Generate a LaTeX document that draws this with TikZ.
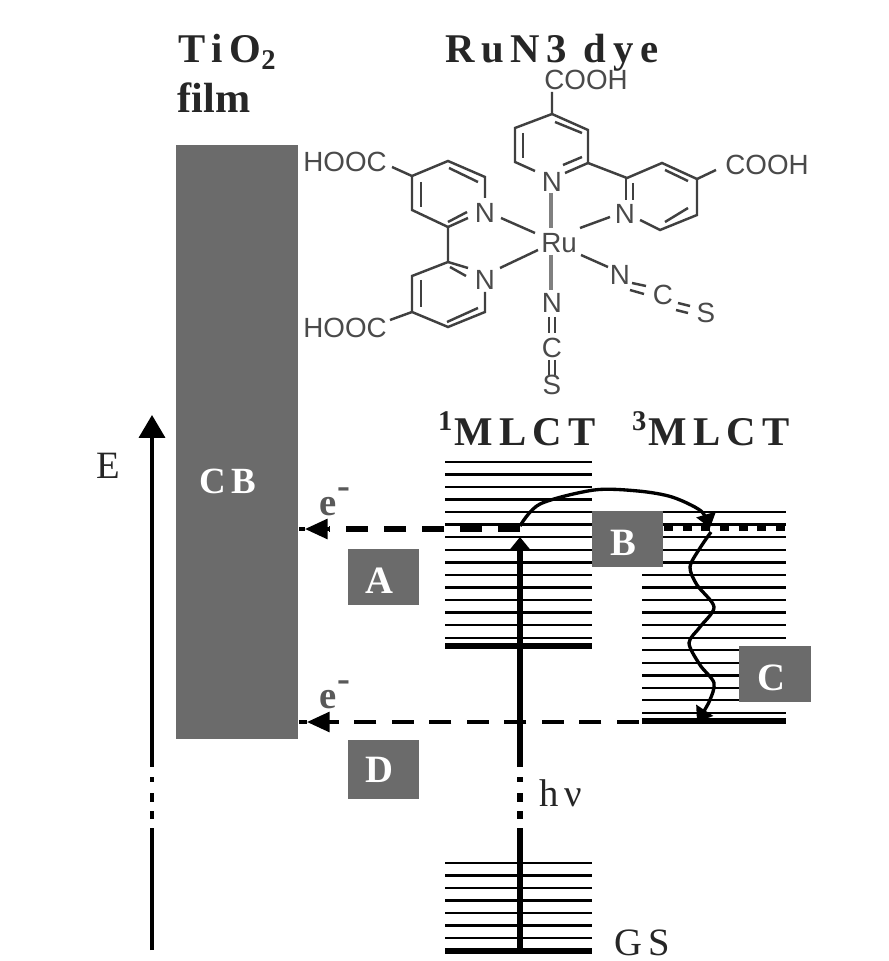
\documentclass[tikz,border=0pt]{standalone}
\usepackage{fontspec}
\usetikzlibrary{arrows.meta}
\setmainfont{Liberation Serif}
\newfontfamily\spacedfont[LetterSpace=16]{Liberation Serif}
\newfontfamily\chemfont{Liberation Sans}
\definecolor{barcol}{HTML}{6B6B6B}
\definecolor{chemcol}{HTML}{4A4A4A}
\newcommand{\boxtext}[1]{\rule{0pt}{9.4pt}#1\kern2.2pt}
\tikzset{
  title/.style={inner sep=0pt, text=black!85, font=\spacedfont\bfseries\fontsize{11.6}{13}\selectfont},
  plainlab/.style={inner sep=0pt, text=black!85, font=\spacedfont\fontsize{11}{13}\selectfont},
  atom/.style={inner sep=0pt, text=chemcol, font=\chemfont\fontsize{7.9}{9}\selectfont},
  bond/.style={draw=black!75, line width=0.7pt},
  rubond/.style={draw=black!50, line width=1.1pt},
  statebox/.style={fill=barcol, text=white, inner sep=0pt, minimum width=0.71cm, minimum height=0.56cm,
    font=\spacedfont\bfseries\fontsize{11}{13}\selectfont},
  level/.style={line width=0.75pt},
  lowest/.style={line width=1.75pt},
  axisline/.style={line width=0.95pt},
  hvline/.style={line width=1.7pt},
  gap/.style={dash pattern=on 2.6pt off 2.6pt on 2.2pt off 2.6pt on 2.6pt off 3.1pt on 1.5pt off 2.8pt},
  elec/.style={-{Triangle[length=6.4pt,width=5.6pt]}, line width=1pt},
  charge/.style={inner sep=0pt, text=black!65, font=\spacedfont\bfseries\fontsize{11}{13}\selectfont}
}
\begin{document}
\begin{tikzpicture}[x=0.01cm, y=-0.01cm]
    \useasboundingbox (0, 0) rectangle (889, 961);

    % titles
    \node[title] (tio) at (228, 52) {TiO\textsubscript{2}};
    \node[title, font=\rmfamily\bfseries\fontsize{12}{13}\selectfont] (film) at (214, 98) {film};
    \node[title] (dye) at (552, 53) {RuN3 dye};

    \node[fill=barcol, inner sep=0pt, minimum width=1.22cm, minimum height=5.94cm] (bar) at (237, 442) {};
    \node[plainlab, text=white, font=\spacedfont\bfseries\fontsize{10.5}{13}\selectfont] (cb) at (228, 481) {CB};

    % the dye molecule
    \begin{scope}
      \draw[bond] (552, 92) -- (552, 114) -- (588, 130) -- (588, 163) -- (627, 178) -- (662, 163) -- (697, 179) -- (697, 215) -- (660, 230) -- (640, 220);
      \draw[bond] (552, 114) -- (515, 128) -- (515, 162) -- (535, 171);
      \draw[bond] (588, 163) -- (565, 173);
      \draw[bond] (697, 179) -- (716, 170);
      \draw[bond] (626, 178) -- (626, 200);
      \draw[bond] (392, 167) -- (412, 176) -- (448, 161) -- (485, 177) -- (485, 198);
      \draw[bond] (412, 176) -- (412, 210) -- (448, 227) -- (448, 262) -- (412, 276) -- (412, 312) -- (448, 327) -- (485, 312) -- (485, 292);
      \draw[bond] (448, 227) -- (468, 218);
      \draw[bond] (448, 262) -- (468, 268);
      \draw[bond] (390, 320) -- (412, 312);
      % inner lines of the double bonds
      \draw[bond] (555, 122) -- (582, 133);
      \draw[bond] (523, 133) -- (523, 158);
      \draw[bond] (563, 165) -- (582, 157);
      \draw[bond] (665, 170) -- (688, 181);
      \draw[bond] (665, 222) -- (688, 208);
      \draw[bond] (633, 183) -- (633, 200);
      \draw[bond] (449, 168) -- (478, 182);
      \draw[bond] (421, 182) -- (421, 207);
      \draw[bond] (448, 222) -- (467, 212);
      \draw[bond] (450, 267) -- (466, 276);
      \draw[bond] (421, 280) -- (421, 307);
      \draw[bond] (447, 322) -- (478, 308);
      % bonds to the metal
      \draw[rubond] (551, 193) -- (551, 228);
      \draw[rubond] (551, 255) -- (551, 290);
      \draw[bond] (501, 218) -- (535, 233);
      \draw[bond] (500, 268) -- (538, 250);
      \draw[bond] (580, 228) -- (610, 217);
      \draw[bond] (581, 255) -- (608, 267);
      \draw[bond] (549, 317) -- (549, 333);
      \draw[bond] (555, 317) -- (555, 333);
      \draw[bond] (549, 360) -- (549, 375);
      \draw[bond] (555, 360) -- (555, 375);
      \draw[bond] (632, 283) -- (646, 286);
      \draw[bond] (630, 290) -- (644, 294);
      \draw[bond] (678, 303) -- (690, 306);
      \draw[bond] (676, 310) -- (688, 313);
    \end{scope}
    \node[atom] (cooha) at (586, 80) {COOH};
    \node[atom] (coohb) at (767, 165) {COOH};
    \node[atom] (hoocc) at (345, 162) {HOOC};
    \node[atom] (hoocd) at (345, 328) {HOOC};
    \node[atom] (ru) at (559, 243) {Ru};
    \node[atom] (na) at (552, 182) {N};
    \node[atom] (nb) at (625, 214) {N};
    \node[atom] (nc) at (485, 213) {N};
    \node[atom] (nd) at (485, 280) {N};
    \node[atom] (ne) at (620, 275) {N};
    \node[atom] (ce) at (663, 295) {C};
    \node[atom] (se) at (706, 313) {S};
    \node[atom] (nf) at (552, 303) {N};
    \node[atom] (cf) at (552, 348) {C};
    \node[atom] (sf) at (552, 385) {S};

    \node[title] (singlet) at (517, 429) {\textsuperscript{1}MLCT};
    \node[title] (triplet) at (711, 429) {\textsuperscript{3}MLCT};

    % energy levels
    \foreach \y in {462, 474.5, 487, 499.5, 512, 524.5, 537, 550, 562.5, 575, 587.5, 600, 612.5, 625, 638}
      \draw[level] (445, \y) -- (592, \y);
    \draw[lowest] (445, 646) -- (592, 646);
    \foreach \y in {512, 524.5, 537, 550, 562.5, 575, 587.5, 600, 612.5, 625, 638, 650, 663, 675.5, 688, 700, 713}
      \draw[level] (642, \y) -- (786, \y);
    \draw[lowest] (642, 721) -- (786, 721);
    \foreach \y in {863, 875.5, 888, 900.5, 913, 925.5, 938}
      \draw[level] (445, \y) -- (592, \y);
    \draw[lowest] (445, 951) -- (592, 951);

    \draw[line width=1.6pt, dash pattern=on 2.6pt off 2.7pt] (664, 528.5) -- (786, 528.5);

    % energy axis
    \coordinate (eb) at (152, 950);
    \coordinate (ec) at (152, 837);
    \coordinate (ed) at (152, 758);
    \coordinate (et) at (152, 415);
    \draw[axisline] (eb) -- (ec);
    \draw[axisline, gap] (ec) -- (ed);
    \draw[axisline, -{Triangle[length=6.5pt,width=7.4pt]}] (ed) -- (et);
    \node[plainlab] (e) at (108, 466) {E};

    % excitation
    \coordinate (hb) at (520, 950);
    \coordinate (hc) at (520, 837);
    \coordinate (hd) at (520, 758);
    \coordinate (ht) at (520, 537);
    \draw[hvline] (hb) -- (hc);
    \draw[hvline, gap] (hc) -- (hd);
    \draw[hvline, -{Triangle[length=3.6pt,width=5.6pt]}] (hd) -- (ht);
    \node[plainlab] (hv) at (561, 793) {hν};
    \node[plainlab] (gs) at (642, 943) {GS};

    % injection A
    \coordinate (aa) at (520, 529);
    \coordinate (ab) at (329, 529);
    \coordinate (ac) at (305, 529);
    \draw[line width=1.7pt, dash pattern=on 6.2pt off 4.6pt] (aa) -- (ab);
    \draw[elec] (ab) -- (ac);
    \draw[line width=1pt] (ac) -- (bar.east |- ac);
    \node[charge] (ea) at (335, 502) {e\raisebox{4.8pt}{-}};

    % injection D
    \coordinate (da) at (639, 722);
    \coordinate (db) at (328, 722);
    \coordinate (dc) at (307, 722);
    \draw[line width=1pt, dash pattern=on 6.26pt off 4.41pt] (da) -- (db);
    \draw[elec] (db) -- (dc);
    \draw[line width=1pt] (dc) -- (bar.east |- dc);
    \node[charge] (ed) at (335, 695) {e\raisebox{5pt}{-}};

    % relaxation
    \coordinate (ba) at (520, 526);
    \coordinate (bb) at (710, 528);
    \coordinate (ca) at (711, 532);
    \coordinate (cb) at (697, 722);
    \draw[line width=0.95pt, -{Triangle[length=4pt,width=5.6pt]}] plot[smooth] coordinates {(ba) (540, 504) (594, 490) (638, 491) (672, 497) (701, 511) (bb)};
    \draw[line width=0.95pt, -{Triangle[length=4pt,width=5.6pt]}] plot[smooth] coordinates {(ca) (700, 548) (690, 567) (697, 585) (714, 607) (700, 627) (689, 643) (700, 665) (714, 683) (709, 702) (cb)};

    \node[statebox] (boxa) at (383.5, 577) {\boxtext{A}};
    \node[statebox] (boxb) at (627.5, 539) {\boxtext{B}};
    \node[statebox] (boxc) at (775, 674) {\boxtext{C}};
    \node[statebox, minimum height=0.59cm] (boxd) at (383.5, 769.5) {D\kern2.2pt};
\end{tikzpicture}
\end{document}
